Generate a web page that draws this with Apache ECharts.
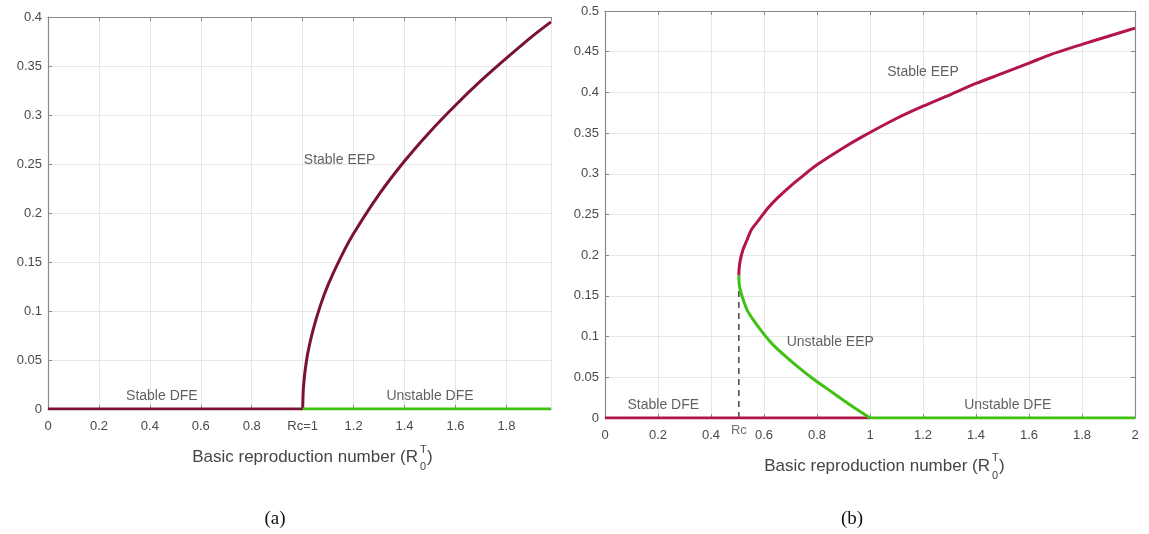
<!DOCTYPE html>
<html>
<head>
<meta charset="utf-8">
<script src="https://cdn.jsdelivr.net/npm/echarts@6/dist/echarts.min.js"></script>
<style>
html,body{margin:0;padding:0;background:#fff;}
#c{width:1149px;height:534px;}
</style>
</head>
<body>
<div id="c"></div>
<script>
// ---------- data ----------
// Panel (a)
const aXMax = 1.975;
const aYMax = 0.4;
const aStableDFE = [[0, 0], [1, 0]];
const aUnstableDFE = [[1, 0], [1.975, 0]];
const aStableEEP = [[1, 0], [1.002, 0.018], [1.005, 0.028], [1.01, 0.04], [1.02, 0.057], [1.04, 0.08],
  [1.07, 0.106], [1.1, 0.127], [1.15, 0.155], [1.2, 0.179], [1.3, 0.219], [1.4, 0.253], [1.5, 0.283],
  [1.6, 0.31], [1.7, 0.335], [1.8, 0.358], [1.9, 0.38], [1.975, 0.395]];
const aNotes = [[1.145, 0.254, 'Stable EEP'], [0.447, 0.013, 'Stable DFE'], [1.5, 0.013, 'Unstable DFE']];

// Panel (b)
const bXMax = 2;
const bYMax = 0.5;
const bRc = 0.505;
const bVertexY = 0.175;
const bStableDFE = [[0, 0], [1, 0]];
const bUnstableDFE = [[1, 0], [2, 0]];
const bStableEEP = [[0.505, 0.175], [0.506, 0.183], [0.51, 0.193], [0.52, 0.206], [0.535, 0.218],
  [0.552, 0.231], [0.58, 0.243], [0.615, 0.258], [0.653, 0.271], [0.7, 0.285], [0.741, 0.296],
  [0.8, 0.311], [0.9, 0.332], [0.968, 0.345], [1.094, 0.367], [1.2, 0.383], [1.308, 0.398],
  [1.4, 0.411], [1.497, 0.423], [1.6, 0.436], [1.686, 0.447], [1.8, 0.459], [1.9, 0.469], [2, 0.479]];
const bUnstableEEP = [[0.505, 0.175], [0.507, 0.163], [0.514, 0.153], [0.525, 0.142], [0.539, 0.131],
  [0.565, 0.118], [0.59, 0.107], [0.62, 0.095], [0.653, 0.084], [0.72, 0.065], [0.79, 0.047],
  [0.86, 0.031], [0.93, 0.015], [1, 0]];
const bNotes = [[1.2, 0.425, 'Stable EEP'], [0.85, 0.093, 'Unstable EEP'], [0.22, 0.016, 'Stable DFE'], [1.52, 0.016, 'Unstable DFE']];

// ---------- styles ----------
const maroon = '#7a1238';
const crimson = '#b3144f';
const green = '#3fc112';
const axisGray = '#8a8a8a';
const gridGray = '#e6e6e6';
const labelGray = '#4a4a4a';
const FONT = 'Liberation Sans, Arial, sans-serif';

function fmt(v) { return String(+(+v).toFixed(2)); }

function xAxisBase(gi, max, pos, labels, formatter) {
  return {
    type: 'value', gridIndex: gi, min: 0, max: max, interval: 0.2, position: pos,
    axisLine: { show: true, onZero: false, lineStyle: { color: axisGray, width: 1.2 } },
    axisTick: { show: true, inside: true, length: 4, lineStyle: { color: axisGray } },
    axisLabel: labels ? { show: true, margin: 11, color: labelGray, fontSize: 13, fontFamily: FONT, formatter: formatter, showMaxLabel: max === 2 } : { show: false },
    splitLine: { show: pos === 'bottom', lineStyle: { color: gridGray, width: 1 } }
  };
}
function yAxisBase(gi, max, pos, labels) {
  return {
    type: 'value', gridIndex: gi, min: 0, max: max, interval: 0.05, position: pos,
    axisLine: { show: true, onZero: false, lineStyle: { color: axisGray, width: 1.2 } },
    axisTick: { show: true, inside: true, length: 4, lineStyle: { color: axisGray } },
    axisLabel: labels ? { show: true, margin: 6, color: labelGray, fontSize: 13, fontFamily: FONT, formatter: fmt } : { show: false },
    splitLine: { show: pos === 'left', lineStyle: { color: gridGray, width: 1 } }
  };
}

function lineSeries(xi, yi, data, color, z) {
  return {
    type: 'line', xAxisIndex: xi, yAxisIndex: yi, data: data, showSymbol: false, symbol: 'none',
    smooth: 0.25, lineStyle: { color: color, width: 3 }, z: z || 3, silent: true
  };
}
function noteSeries(xi, yi, notes) {
  return {
    type: 'scatter', xAxisIndex: xi, yAxisIndex: yi, symbolSize: 0, silent: true, z: 5,
    data: notes.map(n => ({ value: [n[0], n[1]], name: n[2] })),
    label: { show: true, position: 'inside', formatter: p => p.name, color: '#383838', fontSize: 14, fontFamily: FONT }
  };
}

const chart = echarts.init(document.getElementById('c'), null, { renderer: 'canvas' });
chart.setOption({
  animation: false,
  backgroundColor: '#ffffff',
  grid: [
    { left: 48, top: 17, width: 503, height: 392 },
    { left: 605, top: 11, width: 530, height: 407 }
  ],
  xAxis: [
    xAxisBase(0, aXMax, 'bottom', true, v => Math.abs(v - 1) < 1e-9 ? 'Rc=1' : fmt(v)),
    xAxisBase(0, aXMax, 'top', false),
    xAxisBase(1, bXMax, 'bottom', true, fmt),
    xAxisBase(1, bXMax, 'top', false)
  ],
  yAxis: [
    yAxisBase(0, aYMax, 'left', true),
    yAxisBase(1, bYMax, 'left', true),
    yAxisBase(1, bYMax, 'right', false)
  ],
  series: [
    lineSeries(0, 0, aStableDFE, maroon, 3),
    lineSeries(0, 0, aStableEEP, maroon, 3),
    lineSeries(0, 0, aUnstableDFE, green, 4),
    noteSeries(0, 0, aNotes),
    {
      type: 'line', xAxisIndex: 2, yAxisIndex: 1, symbol: 'none', silent: true, z: 2,
      data: [[bRc, 0], [bRc, bVertexY]],
      lineStyle: { color: '#444', width: 1.5, type: [6, 5] }
    },
    lineSeries(2, 1, bStableDFE, crimson, 3),
    lineSeries(2, 1, bStableEEP, crimson, 3),
    lineSeries(2, 1, bUnstableEEP, green, 4),
    lineSeries(2, 1, bUnstableDFE, green, 4),
    noteSeries(2, 1, bNotes),
    {
      type: 'scatter', xAxisIndex: 2, yAxisIndex: 1, symbolSize: 0, silent: true, z: 5,
      data: [{ value: [bRc, 0], name: 'Rc' }],
      label: { show: true, position: 'bottom', distance: 6, formatter: 'Rc', color: labelGray, fontSize: 13, fontFamily: FONT }
    }
  ],
  graphic: [
    { type: 'text', x: 418, y: 457, style: { text: 'Basic reproduction number (R', align: 'right', verticalAlign: 'middle', fill: '#454545', font: '17px ' + FONT } },
    { type: 'text', x: 420, y: 450, style: { text: 'T', align: 'left', verticalAlign: 'middle', fill: '#454545', font: '11px ' + FONT } },
    { type: 'text', x: 420, y: 467, style: { text: '0', align: 'left', verticalAlign: 'middle', fill: '#454545', font: '11px ' + FONT } },
    { type: 'text', x: 427, y: 457, style: { text: ')', align: 'left', verticalAlign: 'middle', fill: '#454545', font: '17px ' + FONT } },

    { type: 'text', x: 990, y: 466, style: { text: 'Basic reproduction number (R', align: 'right', verticalAlign: 'middle', fill: '#454545', font: '17px ' + FONT } },
    { type: 'text', x: 992, y: 458, style: { text: 'T', align: 'left', verticalAlign: 'middle', fill: '#454545', font: '11px ' + FONT } },
    { type: 'text', x: 992, y: 476, style: { text: '0', align: 'left', verticalAlign: 'middle', fill: '#454545', font: '11px ' + FONT } },
    { type: 'text', x: 999, y: 466, style: { text: ')', align: 'left', verticalAlign: 'middle', fill: '#454545', font: '17px ' + FONT } },

    { type: 'text', x: 275, y: 519, style: { text: '(a)', align: 'center', verticalAlign: 'middle', fill: '#111', font: '19px Liberation Serif, DejaVu Serif, serif' } },
    { type: 'text', x: 852, y: 519, style: { text: '(b)', align: 'center', verticalAlign: 'middle', fill: '#111', font: '19px Liberation Serif, DejaVu Serif, serif' } }
  ]
});
</script>
</body>
</html>
